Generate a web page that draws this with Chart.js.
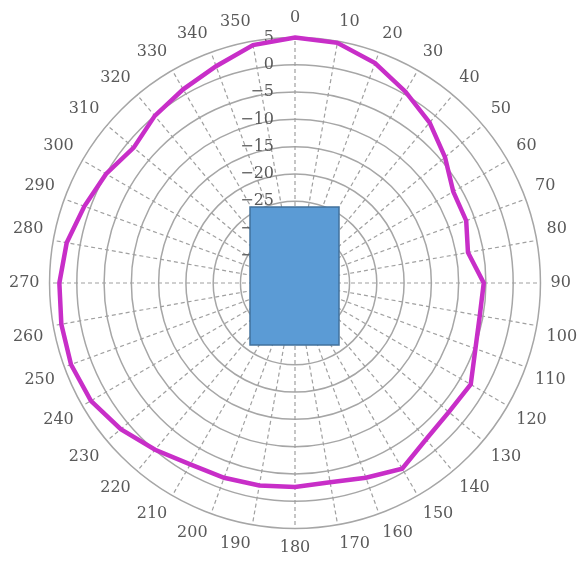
<!DOCTYPE html>
<html>
<head>
<meta charset="utf-8">
<script src="https://cdn.jsdelivr.net/npm/chart.js@4/dist/chart.umd.min.js"></script>
<style>
  body { margin: 0; background: #fff; }
  #wrap { width: 582px; height: 564px; }
</style>
</head>
<body>
<div id="wrap"><canvas id="myChart" width="582" height="564"></canvas></div>
<script>
var angles = ['0', '10', '20', '30', '40', '50', '60', '70', '80', '90', '100', '110',
  '120', '130', '140', '150', '160', '170', '180', '190', '200', '210', '220', '230',
  '240', '250', '260', '270', '280', '290', '300', '310', '320', '330', '340', '350'];

// gain in dB per angle
var gain = [5, 4.7, 2.9, 0.5, -1.6, -4.1, -6.5, -6.6, -7.8, -5.4, -5.6, -4.8,
  -2.8, -3.2, -2.6, -0.7, -2.0, -2.9, -2.6, -2.3, -2.0, -1.6, -0.1, 1.7,
  3.2, 3.7, 3.5, 3.2, 2.5, 1.1, 0, -1.4, 0, 1.0, 2.3, 4.3];

var tickValues = [5, 0, -5, -10, -15, -20, -25, -30, -35];
var tickLabels = ['5', '0', '\u22125', '\u221210', '\u221215', '\u221220', '\u221225', '\u221230', '\u221235'];

var textGrey = '#595959';
var serif = '"DejaVu Serif", "Liberation Serif", serif';

// tick labels sit left of the vertical axis, right aligned
var tickPlugin = {
  id: 'tickText',
  beforeDatasetsDraw: function(chart) {
    var r = chart.scales.r;
    var ctx = chart.ctx;
    ctx.save();
    ctx.font = '16px ' + serif;
    ctx.fillStyle = textGrey;
    ctx.textAlign = 'right';
    ctx.textBaseline = 'middle';
    for (var i = 0; i < tickValues.length; i++) {
      var d = r.getDistanceFromCenterForValue(tickValues[i]);
      ctx.fillText(tickLabels[i], r.xCenter - 21, r.yCenter - d);
    }
    ctx.restore();
  }
};

// the antenna box drawn over the middle of the plot
var boxPlugin = {
  id: 'box',
  afterDatasetsDraw: function(chart) {
    var r = chart.scales.r;
    var ctx = chart.ctx;
    ctx.save();
    ctx.fillStyle = '#5b9bd5';
    ctx.strokeStyle = '#41719c';
    ctx.lineWidth = 1.5;
    ctx.fillRect(r.xCenter - 45, r.yCenter - 76, 89, 138);
    ctx.strokeRect(r.xCenter - 45, r.yCenter - 76, 89, 138);
    ctx.restore();
  }
};

var ctx = document.getElementById('myChart').getContext('2d');
var myChart = new Chart(ctx, {
  type: 'radar',
  data: {
    labels: angles,
    datasets: [{
      label: 'gain',
      data: gain,
      borderColor: '#c82ec8',
      borderWidth: 4.5,
      fill: false,
      pointRadius: 0,
      tension: 0
    }]
  },
  options: {
    responsive: false,
    animation: false,
    layout: { padding: { top: 8, left: 8, right: 2, bottom: 4 } },
    plugins: {
      legend: { display: false },
      tooltip: { enabled: false }
    },
    scales: {
      r: {
        min: -40,
        max: 5,
        ticks: { stepSize: 5, display: false },
        grid: { color: '#a6a6a6', lineWidth: 1.5, circular: true },
        angleLines: { color: '#a0a0a0', lineWidth: 1.2, borderDash: [4, 3] },
        pointLabels: {
          color: textGrey,
          font: { family: serif, size: 16 },
          padding: 10
        }
      }
    }
  },
  plugins: [tickPlugin, boxPlugin]
});
</script>
</body>
</html>
